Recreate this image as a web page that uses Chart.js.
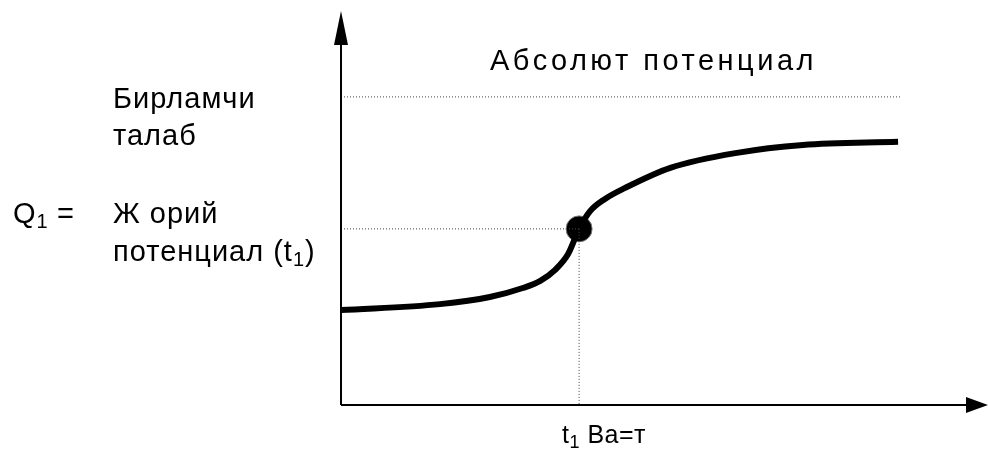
<!DOCTYPE html>
<html>
<head>
<meta charset="utf-8">
<script src="https://cdn.jsdelivr.net/npm/chart.js@4.4.1/dist/chart.umd.min.js"></script>
<style>
  html, body { margin: 0; background: #fff; overflow: hidden; }
  canvas { display: block; }
</style>
</head>
<body>
<canvas id="chart" width="988" height="454"></canvas>
<script>
// curve of demand growth over time (axis units 0..100)
const curveX = [0, 15.3, 23.0, 28.1, 30.8, 33.1, 35.1, 36.8, 38.5, 40.8, 43.9, 50.9, 61.2, 71.4, 86.1];
const curveY = [24.1, 25.6, 27.4, 29.7, 31.5, 34.3, 38.3, 44.7, 49.2, 52.3, 55.1, 60.2, 64.0, 66.0, 66.8];

// current point t1 and the absolute potential level
const pointT1 = { x: 36.8, y: 44.7 };
const absoluteLevel = 78.2;
const absoluteEnd = 86.4;

// labels
const titleText = "Абсолют потенциал";
const primaryLines = ["Бирламчи", "талаб"];
const currentLines = ["Ж орий", "потенциал (t"];
const xLabel = "Ва=т";

const FONT = "'Liberation Sans', Arial, sans-serif";

function drawRuns(ctx, x, y, runs, size, spacing) {
  // draws text pieces one after another, subscript pieces smaller and lower
  runs.forEach((r) => {
    let fs = r.sub ? Math.round(size * 0.7) : size;
    ctx.font = fs + "px " + FONT;
    ctx.letterSpacing = spacing + "px";
    ctx.fillText(r.t, x, y + (r.sub ? size * 0.18 : 0));
    x += ctx.measureText(r.t).width;
  });
}

const axesPlugin = {
  id: "axesPlugin",
  afterDraw(chart) {
    const ctx = chart.ctx;
    const a = chart.chartArea;
    ctx.save();
    ctx.strokeStyle = "#000";
    ctx.fillStyle = "#000";
    ctx.lineWidth = 2;
    // y axis
    ctx.beginPath();
    ctx.moveTo(a.left, a.bottom);
    ctx.lineTo(a.left, a.top + 30);
    ctx.stroke();
    ctx.beginPath();
    ctx.moveTo(a.left, a.top);
    ctx.lineTo(a.left - 7, a.top + 34);
    ctx.lineTo(a.left + 7, a.top + 34);
    ctx.closePath();
    ctx.fill();
    // x axis
    ctx.beginPath();
    ctx.moveTo(a.left, a.bottom);
    ctx.lineTo(a.right - 20, a.bottom);
    ctx.stroke();
    ctx.beginPath();
    ctx.moveTo(a.right, a.bottom);
    ctx.lineTo(a.right - 22, a.bottom - 8);
    ctx.lineTo(a.right - 22, a.bottom + 8);
    ctx.closePath();
    ctx.fill();

    // texts
    ctx.textBaseline = "alphabetic";
    ctx.textAlign = "left";
    drawRuns(ctx, 490, 70, [{ t: titleText }], 29, 3.5);
    drawRuns(ctx, 113, 108, [{ t: primaryLines[0] }], 29, 1);
    drawRuns(ctx, 113, 145, [{ t: primaryLines[1] }], 29, 1);
    drawRuns(ctx, 13, 223, [{ t: "Q" }, { t: "1", sub: true }], 29, 1);
    drawRuns(ctx, 57, 223, [{ t: "=" }], 29, 0);
    drawRuns(ctx, 113, 223, [{ t: currentLines[0] }], 29, 1);
    drawRuns(ctx, 113, 261, [{ t: currentLines[1] }, { t: "1", sub: true }, { t: ")" }], 29, 1);
    drawRuns(ctx, 562, 443, [{ t: "t" }, { t: "1", sub: true }, { t: " " + xLabel }], 25, 0.5);
    ctx.restore();
  },
};

const dotted = {
  borderColor: "#444",
  borderWidth: 1,
  borderDash: [1, 2],
  pointRadius: 0,
  fill: false,
};

new Chart(document.getElementById("chart"), {
  type: "line",
  data: {
    datasets: [
      {
        ...dotted,
        data: [{ x: 0, y: absoluteLevel }, { x: absoluteEnd, y: absoluteLevel }],
      },
      {
        ...dotted,
        data: [{ x: 0, y: pointT1.y }, { x: pointT1.x, y: pointT1.y }],
      },
      {
        ...dotted,
        data: [{ x: pointT1.x, y: pointT1.y }, { x: pointT1.x, y: 0 }],
      },
      {
        data: curveX.map((x, i) => ({ x, y: curveY[i] })),
        borderColor: "#000",
        borderWidth: 6,
        pointRadius: 0,
        cubicInterpolationMode: "monotone",
        fill: false,
      },
      {
        data: [pointT1],
        showLine: false,
        pointRadius: 13,
        pointBackgroundColor: "#000",
        pointBorderColor: "#777",
        pointBorderWidth: 1,
      },
    ],
  },
  options: {
    responsive: false,
    animation: false,
    layout: { autoPadding: false, padding: { left: 341, top: 11, right: 0, bottom: 49 } },
    plugins: { legend: { display: false }, tooltip: { enabled: false } },
    scales: {
      x: { type: "linear", min: 0, max: 100, display: false },
      y: { type: "linear", min: 0, max: 100, display: false },
    },
  },
  plugins: [axesPlugin],
});
</script>
</body>
</html>
